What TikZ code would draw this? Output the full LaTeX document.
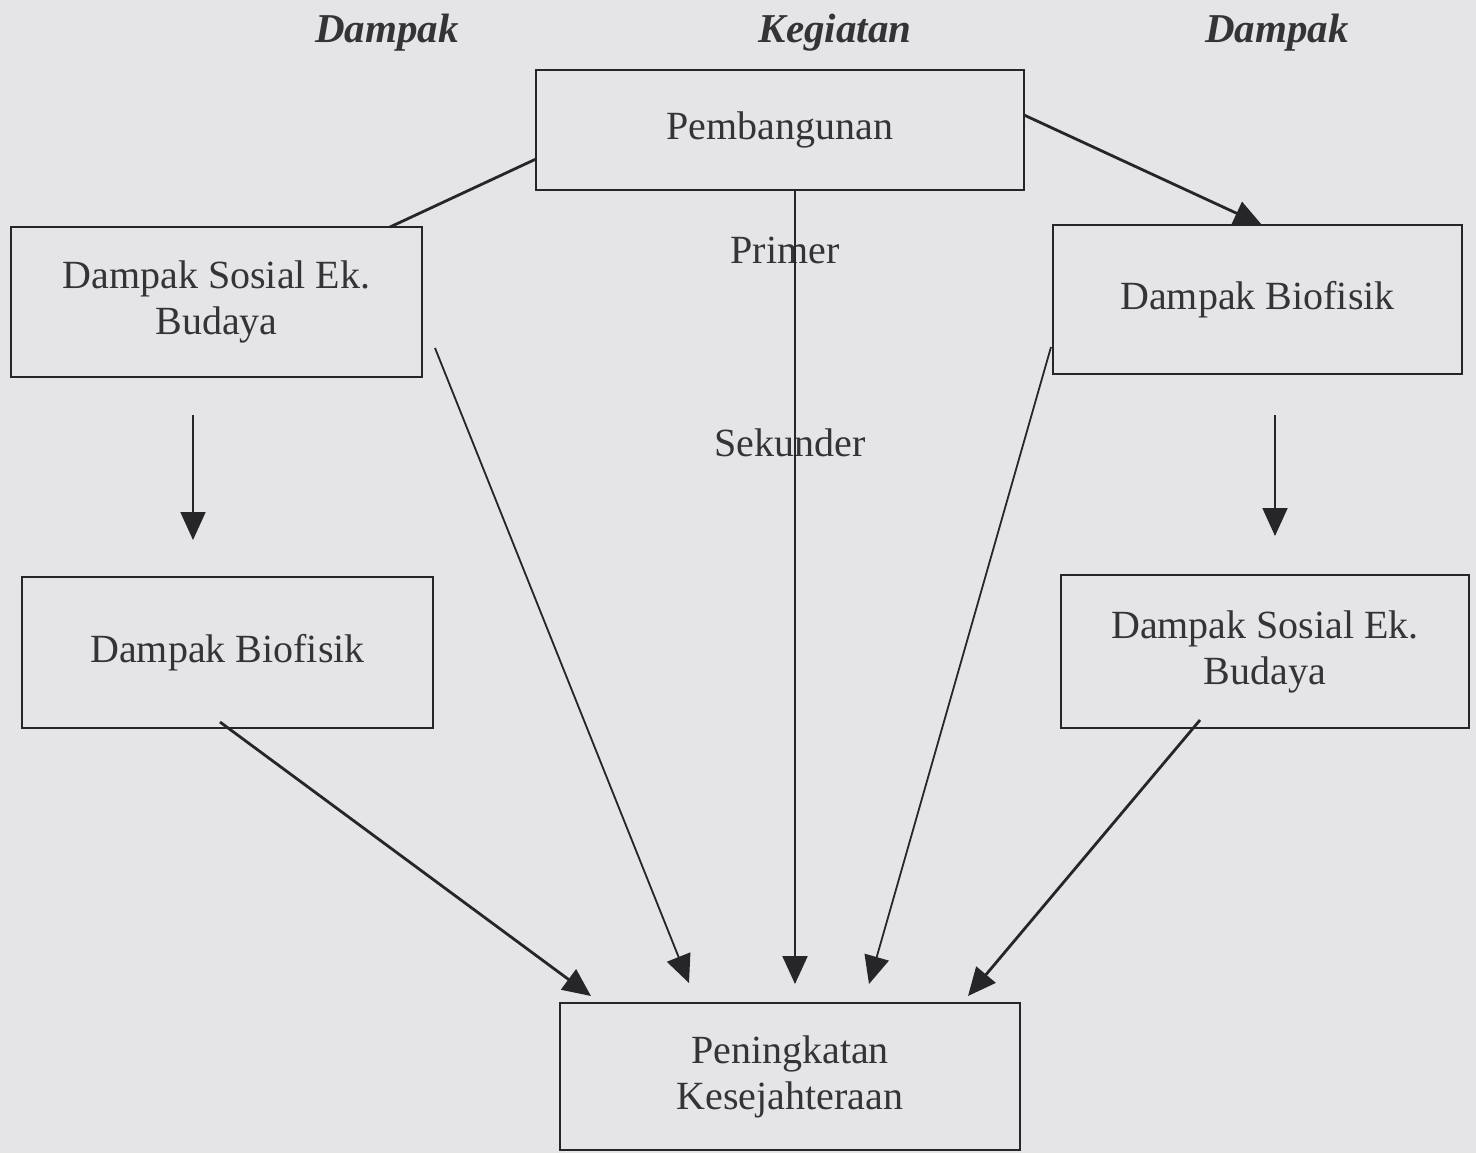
\documentclass[tikz,border=0pt]{standalone}
\usepackage{fontspec}
\setmainfont{Liberation Serif}
\usetikzlibrary{arrows.meta}
\definecolor{bg}{RGB}{229,229,232}
\definecolor{ink}{RGB}{38,38,40}
\definecolor{txt}{RGB}{52,52,54}
\begin{document}
\begin{tikzpicture}[x=0.5pt,y=-0.5pt,
  box/.style={draw=ink, line width=1.1pt, rectangle, inner sep=0pt, align=center, text=txt, font=\fontsize{20}{23}\selectfont},
  head/.style={font=\fontsize{20.5}{24}\selectfont\bfseries\itshape, text=txt},
  lbl/.style={font=\fontsize{20}{23}\selectfont, text=txt},
  thinconn/.style={draw=ink, line width=0.9pt},
  boldconn/.style={draw=ink, line width=1.4pt},
  arr/.style={-{Triangle[length=14pt,width=12.5pt]}}
]
\fill[bg] (0,0) rectangle (1476,1153);
\useasboundingbox (0,0) rectangle (1476,1153);

% headers
\node[head] (h1) at (387,33) {Dampak};
\node[head] (h2) at (835,33) {Kegiatan};
\node[head] (h3) at (1277,33) {Dampak};

% boxes
\node[box, minimum width=244pt, minimum height=60pt] (pb) at (780,130) {Pembangunan};
\node[box, minimum width=205.5pt, minimum height=75pt] (l1) at (216.5,302) {Dampak Sosial Ek.\\Budaya};
\node[box, minimum width=204.5pt, minimum height=74.5pt] (r1) at (1257.5,299.5) {Dampak Biofisik};
\node[box, minimum width=205.5pt, minimum height=75.5pt] (l2) at (227.5,652.5) {Dampak Biofisik};
\node[box, minimum width=204pt, minimum height=76.5pt] (r2) at (1265,651.5) {Dampak Sosial Ek.\\Budaya};
\node[box, minimum width=230pt, minimum height=73.5pt] (pk) at (790,1076.5) {Peningkatan\\Kesejahteraan};

% labels on the vertical line
\node[lbl] (prim) at (785,250) {Primer};
\node[lbl] (sek) at (790,443) {Sekunder};

% connector end points
\coordinate (pbw) at (536,159);
\coordinate (l1n) at (390,227);
\coordinate (pbe) at (1024,115);
\coordinate (r1n) at (1262,225);
\coordinate (pbs) at (795,190);
\coordinate (pkv) at (795,984);
\coordinate (l1d) at (193,415);
\coordinate (l1t) at (193,540);
\coordinate (r1d) at (1275,415);
\coordinate (r1t) at (1275,536);
\coordinate (l1e) at (435,348);
\coordinate (pka) at (689,983);
\coordinate (l2s) at (220,722);
\coordinate (pkb) at (591,996);
\coordinate (r1w) at (1051,347);
\coordinate (pkc) at (869,984);
\coordinate (r2s) at (1200,720);
\coordinate (pkd) at (968,996);

% connectors
\draw[boldconn] (pbw) -- (l1n);
\draw[boldconn, arr] (pbe) -- (r1n);
\draw[thinconn, line width=1.1pt, arr] (pbs) -- (pkv);
\draw[thinconn, arr] (l1d) -- (l1t);
\draw[thinconn, arr] (r1d) -- (r1t);
\draw[thinconn, arr] (l1e) -- (pka);
\draw[boldconn, arr] (l2s) -- (pkb);
\draw[thinconn, arr] (r1w) -- (pkc);
\draw[boldconn, arr] (r2s) -- (pkd);
\end{tikzpicture}
\end{document}
